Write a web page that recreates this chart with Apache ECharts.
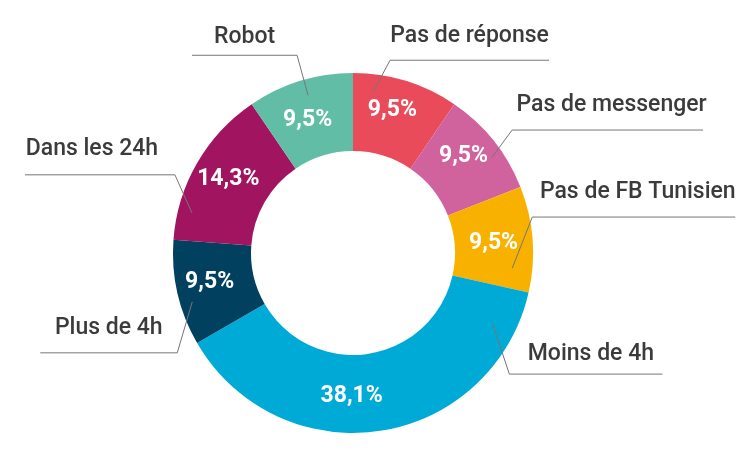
<!DOCTYPE html>
<html><head><meta charset="utf-8">
<script src="https://cdn.jsdelivr.net/npm/echarts@6/dist/echarts.min.js"></script>
<style>html,body{margin:0;padding:0;background:#fff}#c{width:750px;height:450px}</style>
</head><body><div id="c"></div>
<script>
// ---- data ----
const categories = ['Pas de réponse', 'Pas de messenger', 'Pas de FB Tunisien', 'Moins de 4h', 'Plus de 4h', 'Dans les 24h', 'Robot'];
const values = [9.5, 9.5, 9.5, 38.1, 9.5, 14.3, 9.5];
const colors = ['#E94B5B', '#D0629E', '#F9B100', '#00AAD6', '#01415F', '#A01460', '#62BDA6'];

// ---- layout (annotation geometry, not data) ----
const CX = 353, CY = 253, R_IN = 102, R_OUT = 180;
// [startAngleDeg (clockwise from top), startRadius, bendDx, bendDy, horizontalLen, textGap, textDx]
const leaders = [
  [7.1, 162, 17, -32, 159, 16, 0],
  [55.4, 169, 20, -27, 191, 17, 4],
  [95.4, 160, 20, -51, 203, 17, 4],
  [116.7, 156, 17, 51, 153, 12, 5],
  [253.1, 168, -15, 51, 137, 17, 0],
  [284, 166, -17, -38, 150, 18, -8],
  [344.1, 164, -11, -40, 105, 10, 0]
];
// small nudges of the in-ring percentage labels
const pctShift = [[-3, -5], [-2, -7], [-3, 1], [-23, 1], [-3, -3], [0, -2], [-3, 5]];

const FONT = 'Roboto';
const ringData = categories.map((c, i) => ({ name: c, value: values[i], itemStyle: { color: colors[i] } }));
const helperData = categories.map((c, i) => ({ name: c, value: values[i] }));

const chart = echarts.init(document.getElementById('c'), null, { renderer: 'canvas' });
chart.setOption({
  backgroundColor: '#ffffff',
  animation: false,
  series: [
    {
      type: 'pie',
      center: [CX, CY],
      radius: [R_IN, R_OUT],
      startAngle: 90,
      clockwise: true,
      avoidLabelOverlap: false,
      silent: true,
      data: ringData,
      itemStyle: { borderWidth: 0 },
      label: {
        show: true,
        position: 'inside',
        color: '#ffffff',
        fontFamily: FONT,
        fontWeight: 'bold',
        fontSize: 23,
        formatter: p => p.value.toFixed(1).replace('.', ',') + '%'
      },
      labelLine: { show: false },
      labelLayout: function (p) {
        const s = pctShift[p.dataIndex];
        return { dx: s[0], dy: s[1] };
      }
    },
    {
      type: 'pie',
      center: [CX, CY],
      radius: [0, R_OUT],
      startAngle: 90,
      clockwise: true,
      avoidLabelOverlap: false,
      silent: true,
      z: 3,
      data: helperData,
      itemStyle: { color: 'rgba(0,0,0,0)' },
      label: {
        show: true,
        position: 'outside',
        color: '#3b3b3b',
        fontFamily: FONT,
        fontWeight: 500,
        fontSize: 23,
        formatter: '{b}'
      },
      labelLine: { show: true, length: 20, length2: 20, lineStyle: { color: '#767676', width: 1 } },
      labelLayout: function (p) {
        const L = leaders[p.dataIndex];
        const a = L[0] * Math.PI / 180;
        const sx = CX + L[1] * Math.sin(a), sy = CY - L[1] * Math.cos(a);
        const bx = sx + L[2], by = sy + L[3];
        const side = L[2] >= 0 ? 1 : -1;
        const ex = bx + side * L[4];
        return {
          x: (bx + ex) / 2 + L[6],
          y: by - L[5] - 8,
          align: 'center',
          verticalAlign: 'middle',
          labelLinePoints: [[sx, sy], [bx, by], [ex, by]]
        };
      }
    }
  ]
});
</script>
</body></html>
